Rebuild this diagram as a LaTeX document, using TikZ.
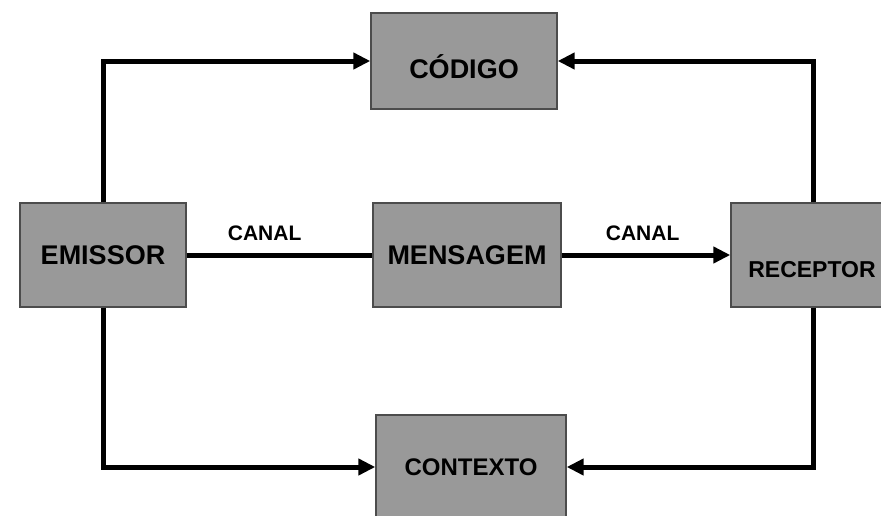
\documentclass[tikz,border=0pt]{standalone}
\usepackage{fontspec}
\setmainfont{Liberation Sans}
\usetikzlibrary{arrows.meta}

\tikzset{
  block/.style={draw=black!70, line width=1.4pt, fill=black!40,
    inner sep=0pt, font=\bfseries},
  link/.style={line width=5pt, draw=black},
  arr/.style={link, -{Triangle[length=17pt,width=16pt]}},
  tag/.style={font=\fontsize{21}{24}\selectfont\bfseries, inner sep=0pt}
}

\begin{document}
\begin{tikzpicture}[x=1pt,y=-1pt]
  \clip (0,0) rectangle (881,515);
  \fill[white] (0,0) rectangle (881,515);

  % boxes
  \node[block, minimum width=166pt, minimum height=104pt,
        font=\fontsize{27}{30}\selectfont\bfseries] (emissor) at (103,255) {EMISSOR};
  \node[block, minimum width=186pt, minimum height=96pt,
        label={[font=\fontsize{27}{30}\selectfont\bfseries, inner sep=0pt, yshift=-6pt]center:CÓDIGO}]
        (codigo) at (464,61) {};
  \node[block, minimum width=188pt, minimum height=104pt,
        font=\fontsize{27}{30}\selectfont\bfseries] (mensagem) at (467,255) {MENSAGEM};
  \node[block, minimum width=164pt, minimum height=104pt,
        label={[font=\fontsize{23}{26}\selectfont\bfseries, inner sep=0pt, yshift=-15pt, xshift=-1pt]center:RECEPTOR}]
        (receptor) at (813,255) {};
  \node[block, minimum width=190pt, minimum height=104pt,
        font=\fontsize{24}{27}\selectfont\bfseries] (contexto) at (471,467) {CONTEXTO};

  % connectors
  \draw[arr] (emissor.north) |- (codigo.west);
  \draw[arr] (receptor.north) |- (codigo.east);
  \draw[arr] (emissor.south) |- (contexto.west);
  \draw[arr] (receptor.south) |- (contexto.east);
  \draw[link] (emissor.east) -- node[tag, pos=0.42, above=12pt] {CANAL} (mensagem.west);
  \draw[arr] (mensagem.east) -- node[tag, pos=0.48, above=12pt] {CANAL} (receptor.west);
\end{tikzpicture}
\end{document}
